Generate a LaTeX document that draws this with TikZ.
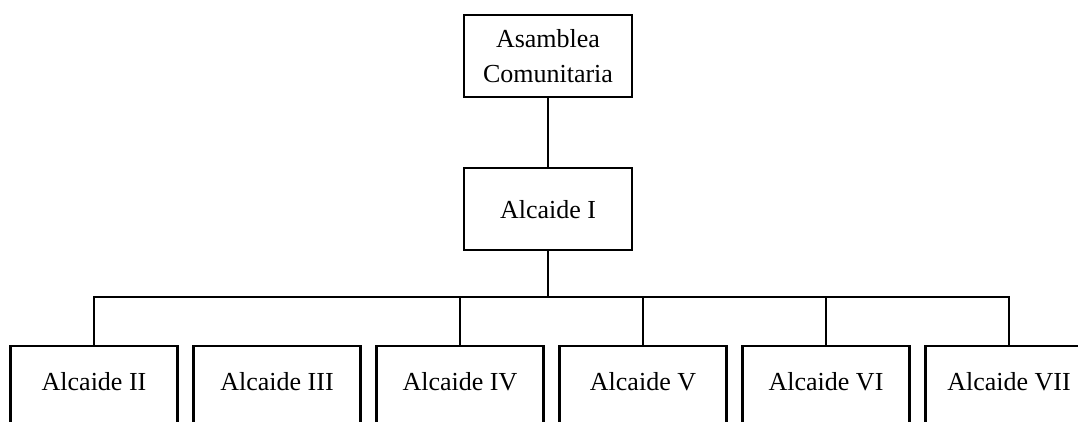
\documentclass[tikz,border=0pt]{standalone}
\usepackage{fontspec}
\setmainfont{Liberation Serif}
\usetikzlibrary{positioning}
\begin{document}
\begin{tikzpicture}[x=1pt, y=-1pt, line width=2.2pt,
		topnode/.style={rectangle, draw, minimum width=168pt, minimum height=82pt, align=center, font=\fontsize{26}{35}\selectfont},
		alcnode/.style={rectangle, draw, minimum width=167pt, inner sep=0pt, text height=44pt, text depth=90pt, font=\fontsize{26}{35}\selectfont},
		]
		\clip (0,0) rectangle (1078,421);
		%Nodes
		\node[topnode, anchor=north] (asamblea)  at (548,14)                  {Asamblea\\Comunitaria};
		\node[topnode]               (alcaide-1) [below=69pt of asamblea]     {Alcaide I};
		\node[alcnode, anchor=north] (alcaide-2) at (94,345)                  {Alcaide II};
		\node[alcnode]               (alcaide-3) [right=13.8pt of alcaide-2]  {Alcaide III};
		\node[alcnode]               (alcaide-4) [right=13.8pt of alcaide-3]  {Alcaide IV};
		\node[alcnode]               (alcaide-5) [right=13.8pt of alcaide-4]  {Alcaide V};
		\node[alcnode]               (alcaide-6) [right=13.8pt of alcaide-5]  {Alcaide VI};
		\node[alcnode]               (alcaide-7) [right=13.8pt of alcaide-6]  {Alcaide VII};
		\coordinate (bus) at (548,297);
		
		%Lines
		\draw (asamblea) -- (alcaide-1);
		\draw (alcaide-1) -- (bus);
		\draw[line join=miter] (alcaide-2.north) |- (bus) -| (alcaide-7.north);
		\foreach \n in {4,5,6}
			\draw (alcaide-\n.north) -- (alcaide-\n.north |- bus);
	\end{tikzpicture}
\end{document}
